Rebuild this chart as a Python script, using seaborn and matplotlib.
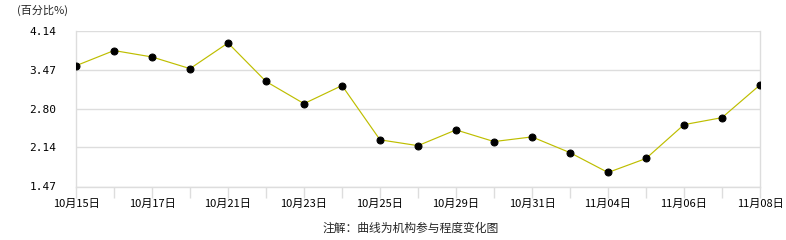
import matplotlib
matplotlib.use("Agg")
import matplotlib.pyplot as plt
import seaborn as sns
import pandas as pd
import numpy as np

dates = ["10月15日", "10月16日", "10月17日", "10月18日", "10月21日", "10月22日",
         "10月23日", "10月24日", "10月25日", "10月28日", "10月29日", "10月30日",
         "10月31日", "11月01日", "11月04日", "11月05日", "11月06日", "11月07日",
         "11月08日"]
values = [3.54, 3.80, 3.69, 3.49, 3.93, 3.27, 2.89, 3.20, 2.27, 2.17, 2.44,
          2.24, 2.32, 2.05, 1.71, 1.95, 2.53, 2.65, 3.21]
yticks = [1.47, 2.14, 2.80, 3.47, 4.14]
ytick_labels = ["1.47", "2.14", "2.80", "3.47", "4.14"]
ylabel_text = "(百分比%)"
note_text = "注解：曲线为机构参与程度变化图"

sns.set_theme(style="white")
plt.rcParams["font.family"] = ["Noto Sans CJK SC", "DejaVu Sans"]

df = pd.DataFrame({"date": dates, "value": values})

fig = plt.figure(figsize=(7.86, 2.40), dpi=100)
ax = fig.add_axes([76 / 786, 1 - 186.5 / 240, (760 - 76) / 786, (186.5 - 30.7) / 240])

sns.lineplot(data=df, x="date", y="value", sort=False, ax=ax,
             color="#BEBE00", linewidth=0.85, marker="o", markersize=5,
             markerfacecolor="black", markeredgecolor="black", zorder=3)

ax.set_xlim(0, len(dates) - 1)
ax.set_ylim(yticks[0], yticks[-1])
ax.set_yticks(yticks)
ax.set_yticklabels(ytick_labels, fontsize=8, family=["DejaVu Sans Mono"])
ax.set_xticks(range(len(dates)))
ax.set_xticklabels([d if i % 2 == 0 else "" for i, d in enumerate(dates)], fontsize=8)
ax.set_xlabel("")
ax.set_ylabel("")

ax.grid(axis="y", color="#DDDDDD", linewidth=1.0)
ax.grid(axis="x", visible=False)
ax.set_axisbelow(True)
for side in ["left", "right", "bottom"]:
    ax.spines[side].set_visible(True)
    ax.spines[side].set_color("#DDDDDD")
    ax.spines[side].set_linewidth(1.0)
ax.spines["top"].set_visible(False)

ax.tick_params(axis="x", which="both", bottom=True, length=8, width=1.0,
               color="#DDDDDD", pad=1, labelcolor="black")
ax.tick_params(axis="y", left=False, pad=8, labelcolor="black")

fig.text(17 / 786, 1 - 10 / 240, ylabel_text, fontsize=8, ha="left", va="center")
fig.text(411 / 786, 1 - 228 / 240, note_text, fontsize=8.5, ha="center", va="center")

fig.savefig("out.png", dpi=100)
